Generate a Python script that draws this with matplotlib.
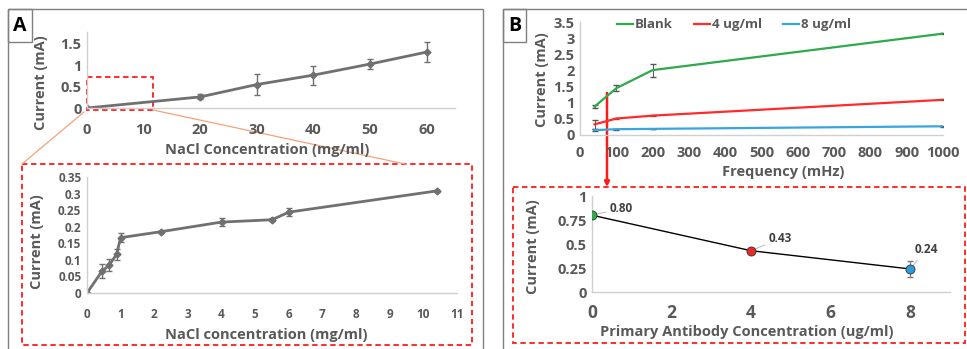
import matplotlib
matplotlib.use("Agg")
import matplotlib.pyplot as plt
from matplotlib.patches import Rectangle
from matplotlib.lines import Line2D

# ---------------- data ----------------
nacl_x = [0, 20, 30, 40, 50, 60]
nacl_y = [0.0, 0.26, 0.55, 0.77, 1.03, 1.31]
nacl_err = [0.01, 0.06, 0.25, 0.22, 0.12, 0.23]

low_x = [0, 0.44, 0.66, 0.88, 1.0, 2.2, 4.0, 5.5, 6.0, 10.4]
low_y = [0.0, 0.065, 0.084, 0.117, 0.167, 0.185, 0.214, 0.221, 0.244, 0.308]
low_err = [0.0, 0.021, 0.018, 0.017, 0.014, 0.003, 0.013, 0.004, 0.011, 0.004]

freq = [40, 100, 200, 1000]
blank = [0.88, 1.45, 2.01, 3.14]
blank_err = [0.05, 0.10, 0.20, 0.02]
c4 = [0.33, 0.51, 0.60, 1.09]
c4_err = [0.15, 0.02, 0.02, 0.02]
c8 = [0.15, 0.18, 0.19, 0.27]
c8_err = [0.04, 0.02, 0.01, 0.01]
series_names = ["Blank", "4 ug/ml", "8 ug/ml"]

ab_x = [0, 4, 8]
ab_y = [0.80, 0.43, 0.24]
ab_err = [0.01, 0.02, 0.08]

nacl_ticks = [0, 10, 20, 30, 40, 50, 60]
nacl_yticks = [0, 0.5, 1, 1.5]
low_xticks = list(range(0, 12))
low_yticks = [0, 0.05, 0.1, 0.15, 0.2, 0.25, 0.3, 0.35]
freq_ticks = list(range(0, 1001, 100))
freq_yticks = [0, 0.5, 1, 1.5, 2, 2.5, 3, 3.5]
ab_xticks = [0, 2, 4, 6, 8]
ab_yticks = [0, 0.25, 0.5, 0.75, 1]

# ---------------- style ----------------
W, H = 967, 349
FONT = "Open Sans"
TXT = "#595959"
AXC = "#d0d0d0"
plt.rcParams["font.family"] = [FONT, "DejaVu Sans"]
plt.rcParams["font.weight"] = "bold"

fig = plt.figure(figsize=(W / 100, H / 100), dpi=100)


def rect(x0, y0, x1, y1):
    return [x0 / W, 1 - y1 / H, (x1 - x0) / W, (y1 - y0) / H]


def style(ax, fs):
    for s in ["top", "right"]:
        ax.spines[s].set_visible(False)
    for s in ["left", "bottom"]:
        ax.spines[s].set_color(AXC)
        ax.spines[s].set_linewidth(1)
    ax.tick_params(length=0, labelsize=fs, labelcolor=TXT, pad=4)
    for lab in ax.get_xticklabels() + ax.get_yticklabels():
        lab.set_fontweight("bold")
    ax.patch.set_alpha(0)


def labels(ax, xl, yl, xpos, ypos, fs=10.5):
    ax.set_xlabel(xl, fontsize=fs, color=TXT, fontweight="bold")
    ax.set_ylabel(yl, fontsize=fs, color=TXT, fontweight="bold")
    ax.xaxis.set_label_coords(*xpos)
    ax.yaxis.set_label_coords(*ypos)
    ax.xaxis.label.set_va("center")
    ax.yaxis.label.set_va("center")


def fmt(v):
    return ("%g" % v)

# ---- overlay for frames ----
ov = fig.add_axes([0, 0, 1, 1])
ov.set_xlim(0, W)
ov.set_ylim(H, 0)
ov.axis("off")
ov.add_patch(Rectangle((8, 9), 475, 345, fill=False, ec="#808080", lw=1))
ov.add_patch(Rectangle((503, 9), 470, 345, fill=False, ec="#808080", lw=1))
ov.add_patch(Rectangle((8, 9), 24, 33, fill=False, ec="#808080", lw=1))
ov.add_patch(Rectangle((503, 9), 23, 33, fill=False, ec="#808080", lw=1))
ov.text(20, 26, "A", ha="center", va="center", fontsize=14, fontweight="bold", color="black")
ov.text(514.5, 26, "B", ha="center", va="center", fontsize=14, fontweight="bold", color="black")
# zoom boxes
ov.add_patch(Rectangle((22, 164), 450, 181, fill=False, ec="#ff1a1a", lw=1.3, ls=(0, (3, 2))))
ov.add_patch(Rectangle((513, 187), 452, 156, fill=False, ec="#ff1a1a", lw=1.3, ls=(0, (3, 2))))
ov.add_patch(Rectangle((87, 77), 66, 33, fill=False, ec="#ff1a1a", lw=1.3, ls=(0, (3, 2)), zorder=5))
ov.add_line(Line2D([84, 22], [112, 164], color="#f5a27a", lw=0.9))
ov.add_line(Line2D([153, 405], [110, 164], color="#f5a27a", lw=0.9))
ov.annotate("", xy=(607, 187), xytext=(607, 93),
            arrowprops=dict(arrowstyle="-|>", color="#ff1a1a", lw=1.8, mutation_scale=7,
                            shrinkA=0, shrinkB=0), zorder=6)

LINEC = "#707070"

# ---- A top ----
ax1 = fig.add_axes(rect(87, 32, 455, 108))
ax1.errorbar(nacl_x, nacl_y, yerr=nacl_err, color=LINEC, lw=2, marker="D", ms=3.5,
             ecolor=LINEC, elinewidth=1, capsize=2)
ax1.set_xlim(0, 65)
ax1.set_ylim(0, 1.78)
ax1.set_xticks(nacl_ticks)
ax1.set_yticks(nacl_yticks)
ax1.set_yticklabels([fmt(v) for v in nacl_yticks])
style(ax1, 10.5)
ax1.tick_params(axis="x", pad=11)
labels(ax1, "NaCl Concentration (mg/ml)", "Current (mA)", (0.489, -0.553), (-0.125, 0.34))

# ---- A inset ----
ax2 = fig.add_axes(rect(87, 177, 457, 293))
ax2.errorbar(low_x, low_y, yerr=low_err, color=LINEC, lw=2, marker="D", ms=3.5,
             ecolor=LINEC, elinewidth=1, capsize=2)
ax2.set_xlim(0, 11)
ax2.set_ylim(0, 0.35)
ax2.set_xticks(low_xticks)
ax2.set_yticks(low_yticks)
ax2.set_yticklabels([fmt(v) for v in low_yticks])
style(ax2, 8.5)
ax2.tick_params(axis="x", pad=11)
labels(ax2, "NaCl concentration (mg/ml)", "Current (mA)", (0.484, -0.362), (-0.135, 0.44))

# ---- B top ----
ax3 = fig.add_axes(rect(580, 22, 943, 135))
cols = ["#2eaa4a", "#ff2a2a", "#37a5e0"]
for ys, es, c in zip([blank, c4, c8], [blank_err, c4_err, c8_err], cols):
    ax3.errorbar(freq, ys, yerr=es, color=c, lw=1.6, ecolor="#555555", elinewidth=0.7,
                 capsize=2)
ax3.set_xlim(0, 1000)
ax3.set_ylim(0, 3.5)
ax3.set_xticks(freq_ticks)
ax3.set_yticks(freq_yticks)
ax3.set_yticklabels([fmt(v) for v in freq_yticks])
style(ax3, 10.5)
ax3.tick_params(axis="x", pad=8)
labels(ax3, "Frequency (mHz)", "Current (mA)", (0.559, -0.327), (-0.105, 0.487))
handles = [Line2D([], [], color=c, lw=1.6) for c in cols]
leg = ax3.legend(handles, series_names, loc="center left", bbox_to_anchor=(0.103, 0.975),
                 ncol=3, frameon=False, handlelength=1.2, handletextpad=0.15,
                 columnspacing=1.6, borderpad=0, borderaxespad=0,
                 prop={"weight": "bold", "size": 9.5, "family": FONT})
for t in leg.get_texts():
    t.set_color(TXT)

# ---- B inset ----
ax4 = fig.add_axes(rect(592, 196, 950, 292))
ax4.plot(ab_x, ab_y, color="black", lw=1)
ax4.errorbar(ab_x, ab_y, yerr=ab_err, fmt="none", ecolor="#777777", elinewidth=0.8, capsize=2)
mcols = ["#2eaa4a", "#e82a2a", "#2a9ad8"]
for x, y, c in zip(ab_x, ab_y, mcols):
    ax4.plot([x], [y], marker="o", ms=6.5, color=c, mec="#333333", mew=0.6, zorder=5)
offs = [(0.45, 0.07), (0.45, 0.13), (0.1, 0.2)]
for x, y, (dx, dy) in zip(ab_x, ab_y, offs):
    ax4.annotate("%.2f" % y, xy=(x, y), xytext=(x + dx, y + dy), fontsize=8.5,
                 fontweight="bold", color="#404040", va="center", ha="left",
                 arrowprops=dict(arrowstyle="-", color="#bbbbbb", lw=0.7, shrinkA=1, shrinkB=3))
ax4.set_xlim(0, 9)
ax4.set_ylim(0, 1)
ax4.set_xticks(ab_xticks)
ax4.set_yticks(ab_yticks)
ax4.set_yticklabels([fmt(v) for v in ab_yticks])
style(ax4, 10.5)
ax4.tick_params(axis="x", pad=9, labelsize=12.5)
labels(ax4, "Primary Antibody Concentration (ug/ml)", "Current (mA)",
       (0.433, -0.417), (-0.165, 0.469))

fig.savefig("out.png", dpi=100)
